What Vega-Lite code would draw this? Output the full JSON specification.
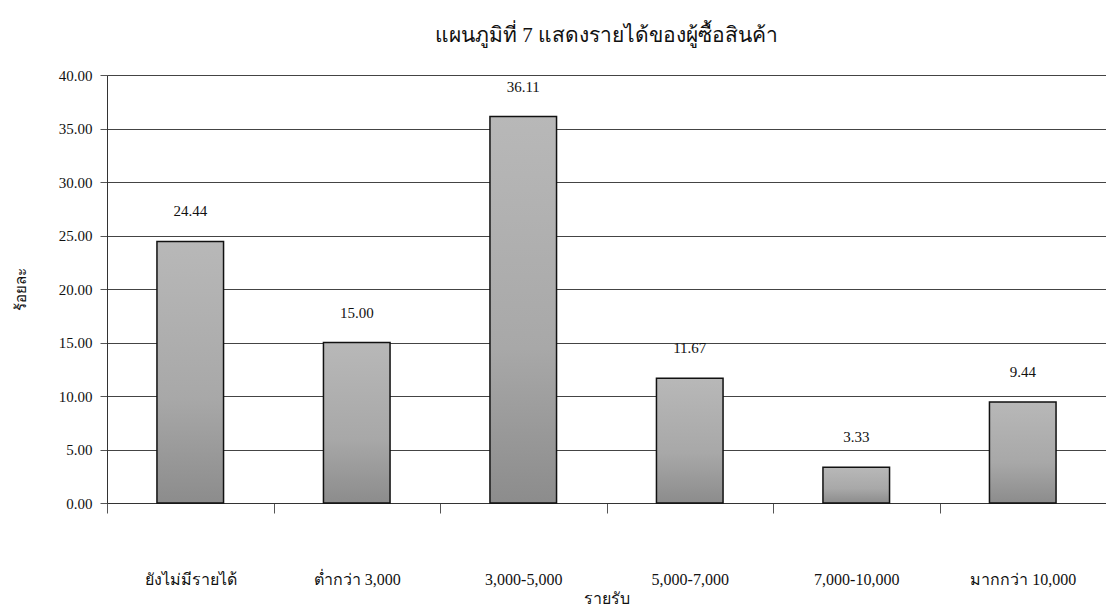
{
  "$schema": "https://vega.github.io/schema/vega-lite/v6.json",
  "autosize": {"type": "none"},
  "width": 999,
  "height": 428,
  "padding": {"left": 107, "top": 75, "right": 0, "bottom": 108},
  "background": "white",
  "title": {
    "text": "แผนภูมิที่ 7 แสดงรายได้ของผู้ซื้อสินค้า",
    "font": "Liberation Serif",
    "fontSize": 21,
    "fontWeight": "normal",
    "color": "#111",
    "anchor": "middle",
    "offset": 22
  },
  "data": {
    "values": [
      {"income": "ยังไม่มีรายได้", "pct": 24.44},
      {"income": "ต่ำกว่า 3,000", "pct": 15.00},
      {"income": "3,000-5,000", "pct": 36.11},
      {"income": "5,000-7,000", "pct": 11.67},
      {"income": "7,000-10,000", "pct": 3.33},
      {"income": "มากกว่า 10,000", "pct": 9.44}
    ]
  },
  "config": {
    "view": {"stroke": null},
    "font": "Liberation Serif"
  },
  "encoding": {
    "x": {
      "field": "income",
      "type": "nominal",
      "sort": null,
      "scale": {"paddingInner": 0, "paddingOuter": 0},
      "axis": {
        "title": "รายรับ",
        "titleFont": "Liberation Serif",
        "titleFontSize": 16,
        "titleFontWeight": "normal",
        "titleColor": "#111",
        "titlePadding": 3,
        "labelAngle": 0,
        "labelFont": "Liberation Serif",
        "labelFontSize": 16,
        "labelColor": "#111",
        "labelPadding": 58,
        "tickBand": "extent",
        "tickSize": 10,
        "tickColor": "#555",
        "domainColor": "#333",
        "grid": false
      }
    },
    "y": {
      "field": "pct",
      "type": "quantitative",
      "scale": {"domain": [0, 40], "nice": false},
      "axis": {
        "title": "ร้อยละ",
        "titleFont": "Liberation Serif",
        "titleFontSize": 15,
        "titleFontWeight": "normal",
        "titleColor": "#111",
        "titlePadding": 30,
        "values": [0, 5, 10, 15, 20, 25, 30, 35, 40],
        "format": ".2f",
        "labelFont": "Liberation Serif",
        "labelFontSize": 15,
        "labelColor": "#111",
        "labelPadding": 8,
        "tickSize": 7,
        "tickColor": "#555",
        "domainColor": "#333",
        "grid": true,
        "gridColor": "#444",
        "gridWidth": 1
      }
    }
  },
  "layer": [
    {
      "mark": {
        "type": "bar",
        "width": {"band": 0.4},
        "stroke": "#111",
        "strokeWidth": 1.5,
        "color": {
          "gradient": "linear",
          "x1": 0, "y1": 0, "x2": 0, "y2": 1,
          "stops": [
            {"offset": 0, "color": "#b8b8b8"},
            {"offset": 0.6, "color": "#a8a8a8"},
            {"offset": 1, "color": "#8c8c8c"}
          ]
        }
      }
    },
    {
      "mark": {"type": "text", "dy": -30, "fontSize": 15, "color": "#111", "font": "Liberation Serif"},
      "encoding": {
        "text": {"field": "pct", "type": "quantitative", "format": ".2f"}
      }
    }
  ]
}
